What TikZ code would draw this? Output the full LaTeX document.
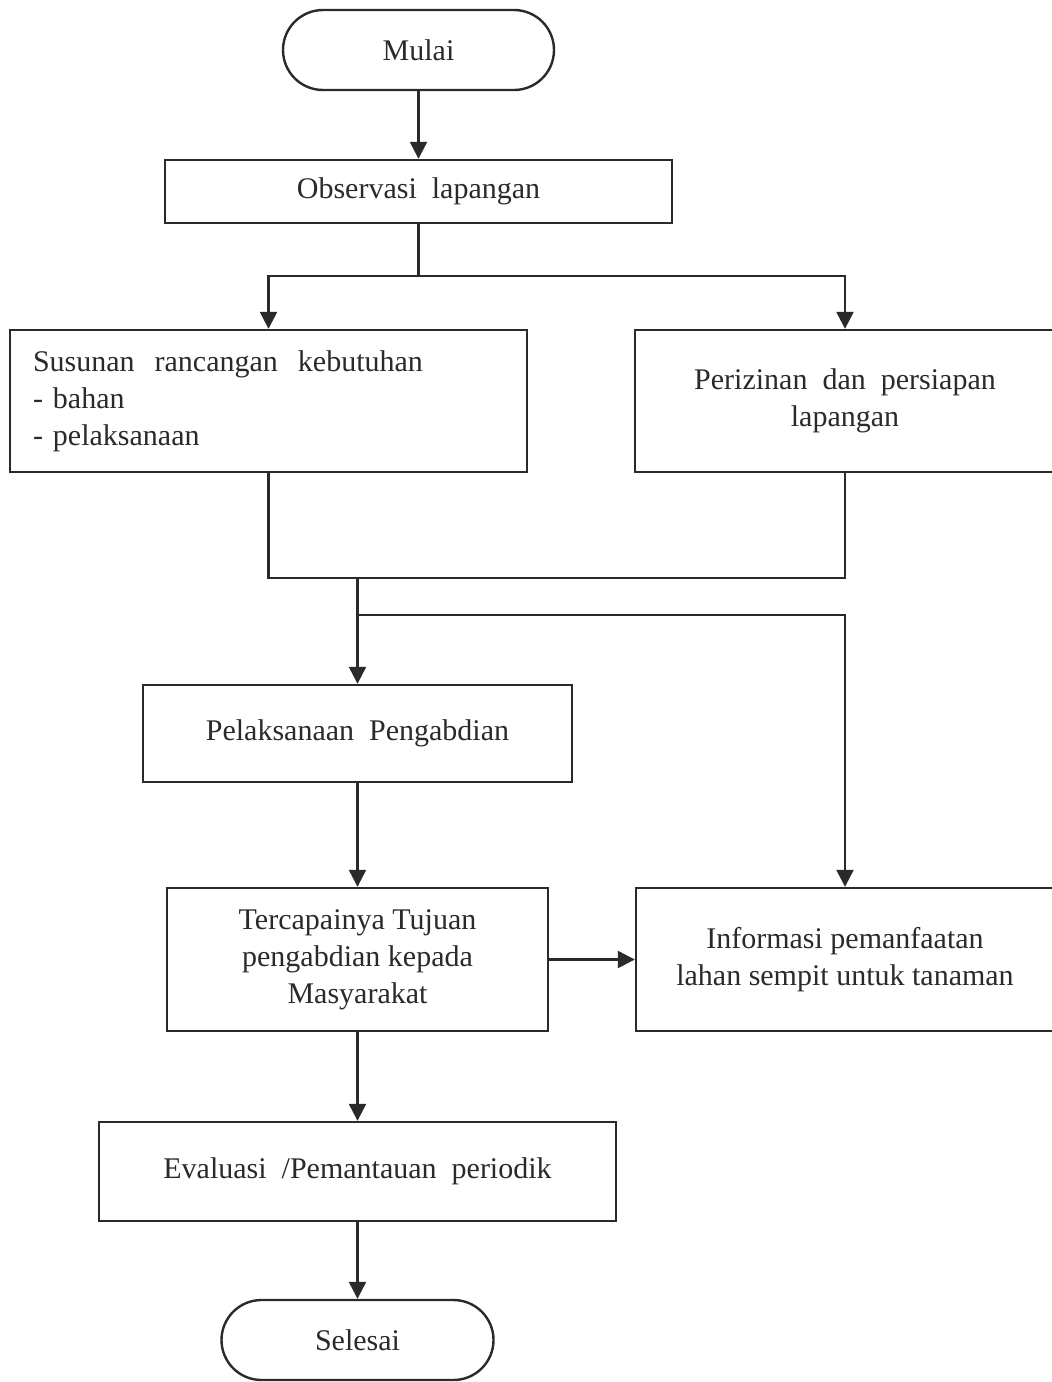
\documentclass[tikz,border=0pt]{standalone}
\usepackage{fontspec}
\setmainfont{Liberation Serif}
\usetikzlibrary{arrows.meta}
\definecolor{ink}{HTML}{2A2A2A}

\begin{document}
\begin{tikzpicture}[x=0.5pt, y=-0.5pt, >={Triangle[length=8.5pt,width=8.5pt]}, font=\fontsize{15}{18.5}\selectfont]
		\useasboundingbox (0,0) rectangle (1052,1382);
		\begin{scope}[every node/.style={draw=ink, text=ink, line width=1.2pt, inner sep=0pt, align=center}]
			\node[minimum width=135.5pt, minimum height=40pt, rounded corners=20pt] (mulai) at (418.5,50) {Mulai};
			\node[minimum width=253.5pt, minimum height=31.5pt] (obs) at (418.5,191.5) {Observasi\ \ lapangan};
			\node[minimum width=258.5pt, minimum height=71pt, text width=235.5pt, inner xsep=11.5pt, align=left] (susun) at (268.5,401) {Susunan\ \ rancangan\ \ kebutuhan\\- bahan\\- pelaksanaan};
			\node[minimum width=210pt, minimum height=71pt] (periz) at (845,401) {Perizinan\ \ dan\ \ persiapan\\lapangan};
			\node[minimum width=214.5pt, minimum height=48.5pt] (pelak) at (357.5,733.5) {Pelaksanaan\ \ Pengabdian};
			\node[minimum width=190.5pt, minimum height=71.5pt] (tercap) at (357.5,959.5) {Tercapainya Tujuan\\pengabdian kepada\\Masyarakat};
			\node[minimum width=209pt, minimum height=71.5pt] (info) at (845,959.5) {Informasi pemanfaatan\\lahan sempit untuk tanaman};
			\node[minimum width=258.5pt, minimum height=49.5pt] (eval) at (357.5,1171.5) {Evaluasi\ \ /Pemantauan\ \ periodik};
			\node[minimum width=136pt, minimum height=40pt, rounded corners=20pt] (selesai) at (357.5,1340) {Selesai};
		\end{scope}
		\coordinate (split) at (418.5,276);
		\coordinate (merge) at (357.5,578);
		\coordinate (branch) at (357.5,615);
		\begin{scope}[every path/.style={draw=ink, line width=1.2pt}]
			\path (obs.south) -- (split);
			\path (susun.south) |- (merge);
			\path (periz.south) |- (merge);
		\end{scope}
		\begin{scope}[every path/.style={draw=ink, line width=1.2pt, ->}]
			\path (mulai) -- (obs);
			\path (split) -| (susun.north);
			\path (split) -| (periz.north);
			\path (merge) -- (pelak);
			\path (branch) -| (info.north);
			\path (pelak) -- (tercap);
			\path (tercap) -- (info);
			\path (tercap) -- (eval);
			\path (eval) -- (selesai);
		\end{scope}
	\end{tikzpicture}
\end{document}
